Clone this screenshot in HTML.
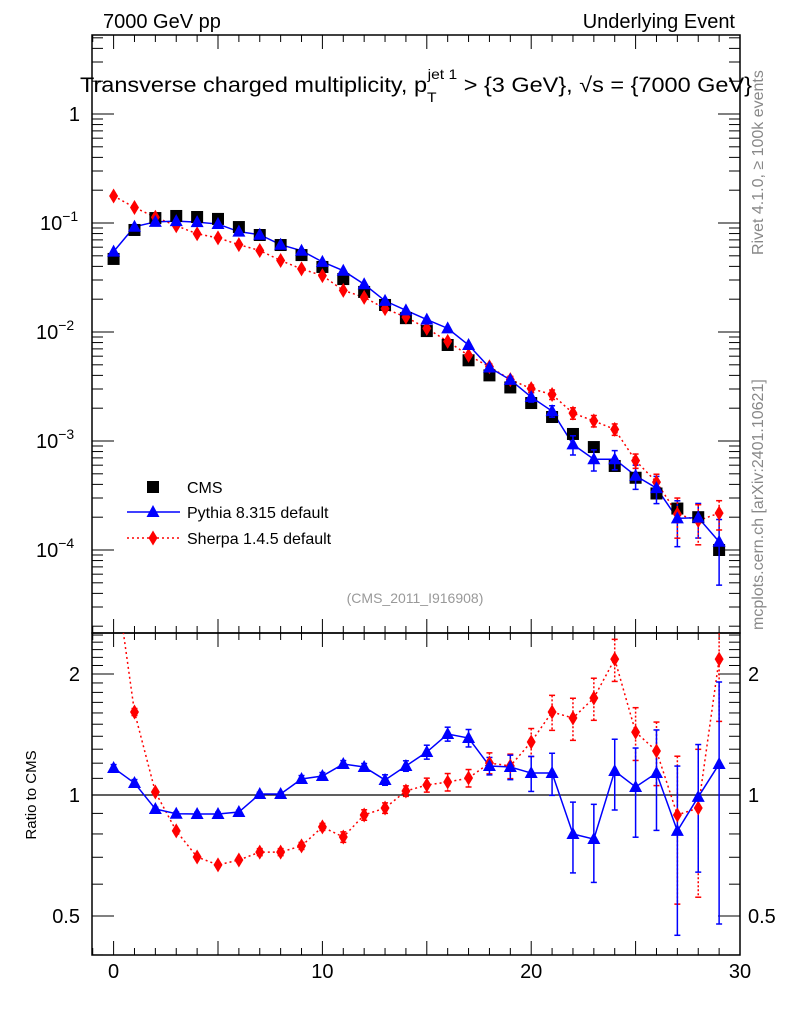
<!DOCTYPE html>
<html><head><meta charset="utf-8"><style>
body{margin:0;background:#fff}
svg{display:block;font-family:"Liberation Sans",sans-serif}
</style></head><body>
<svg id="chart" width="786" height="1024" viewBox="0 0 786 1024" xmlns="http://www.w3.org/2000/svg">
<rect width="786" height="1024" fill="#fff"/>
<text x="103" y="28" font-size="20">7000 GeV pp</text>
<text x="735" y="28" font-size="20" text-anchor="end">Underlying Event</text>
<text x="80" y="92" font-size="21" textLength="672" lengthAdjust="spacingAndGlyphs">Transverse charged multiplicity, p<tspan font-size="14" dy="10">T</tspan><tspan font-size="14" dy="-23" dx="-8">jet 1</tspan><tspan dy="13"> &gt; {3 GeV}, √s = {7000 GeV}</tspan></text>
<text transform="translate(763,255) rotate(-90)" font-size="16" fill="#888">Rivet 4.1.0, ≥ 100k events</text>
<text transform="translate(763,630) rotate(-90)" font-size="16" fill="#888">mcplots.cern.ch [arXiv:2401.10621]</text>
<text x="415" y="603" font-size="14" fill="#999" text-anchor="middle">(CMS_2011_I916908)</text>
<text transform="translate(36,795) rotate(-90)" font-size="15" text-anchor="middle">Ratio to CMS</text>
<g id="main"></g>
<g id="ratio"></g>
<g id="legend"></g>
</svg>
<script>
const mult = [0,1,2,3,4,5,6,7,8,9,10,11,12,13,14,15,16,17,18,19,20,21,22,23,24,25,26,27,28,29];
const cmsValues = [0.0468,0.0863,0.111,0.116,0.1135,0.109,0.0918,0.0776,0.0628,0.0508,0.0395,0.0306,0.0233,0.0177,0.0134,0.0102,0.0076,0.0055,0.0040,0.0031,0.00223,0.00166,0.00116,0.00088,0.00059,0.00046,0.00033,0.00024,0.00020,0.00010];
const pythiaValues = [0.0546,0.0924,0.1025,0.104,0.1018,0.0978,0.0833,0.0781,0.0632,0.0557,0.0440,0.0365,0.0274,0.0193,0.0158,0.0130,0.0108,0.0076,0.00472,0.00364,0.00253,0.00188,0.00093,0.00068,0.00068,0.00048,0.00037,0.000195,0.000198,0.000119];
const sherpaValues = [0.177,0.1389,0.113,0.0944,0.0796,0.0730,0.0633,0.0559,0.0453,0.0379,0.0329,0.0241,0.0208,0.0164,0.0137,0.0108,0.0082,0.0061,0.0048,0.00366,0.00302,0.00267,0.0018,0.00153,0.00128,0.00066,0.00042,0.000214,0.000186,0.000218];
const pythiaRatio = [1.167,1.071,0.923,0.898,0.897,0.897,0.907,1.006,1.006,1.096,1.115,1.194,1.174,1.090,1.181,1.279,1.418,1.386,1.181,1.174,1.134,1.134,0.800,0.777,1.147,1.047,1.134,0.814,0.989,1.194];
const sherpaRatio = [3.78,1.609,1.017,0.814,0.701,0.670,0.689,0.721,0.721,0.747,0.833,0.786,0.892,0.928,1.023,1.059,1.077,1.102,1.201,1.181,1.355,1.609,1.554,1.743,2.178,1.434,1.287,0.892,0.928,2.178];
const pythiaRelErr = [0.02,0.02,0.01,0.01,0.01,0.01,0.01,0.01,0.01,0.02,0.02,0.02,0.02,0.03,0.03,0.04,0.04,0.05,0.05,0.07,0.10,0.12,0.20,0.22,0.20,0.25,0.28,0.45,0.35,0.60];
const sherpaRelErr = [0.02,0.02,0.01,0.01,0.01,0.01,0.01,0.02,0.02,0.02,0.02,0.03,0.03,0.03,0.03,0.04,0.05,0.05,0.06,0.07,0.08,0.10,0.12,0.12,0.12,0.15,0.18,0.40,0.40,0.30];
const mainTickLabels = ["1","10","10","10","10"];
const mainTickExps = [0,-1,-2,-3,-4];
const ratioTicks = [0.5,1,2];
const xTicks = [0,10,20,30];

const NS="http://www.w3.org/2000/svg";
const L=92,R=740,T=35,M=633,B=955;
const x=v=>113.6+(v)*(740-113.6)/30;
const yM=v=>114-109*Math.log10(v);
const yR=v=>795-121*Math.log2(v);
function mk(tag,parent,attrs){const e=document.createElementNS(NS,tag);for(const k in attrs)e.setAttribute(k,attrs[k]);parent.appendChild(e);return e;}
const main=document.getElementById('main'),ratio=document.getElementById('ratio'),leg=document.getElementById('legend');

// frames
let f=mk('rect',main,{x:L,y:T,width:R-L,height:M-T,fill:'none',stroke:'#000','stroke-width':1.5});


f=mk('rect',ratio,{x:L,y:M,width:R-L,height:B-M,fill:'none',stroke:'#000','stroke-width':1.5});



// x ticks
for(let v=-1;v<=30;v++){
  const big=v%5===0, len=big?14:7;
  for(const [top,bot] of [[T,M],[M,B]]){
    mk('line',main,{x1:x(v),x2:x(v),y1:bot,y2:bot-len,stroke:'#000'});
    mk('line',main,{x1:x(v),x2:x(v),y1:top,y2:top+len,stroke:'#000'});
  }
}
xTicks.forEach(v=>{const t=mk('text',ratio,{x:x(v),y:978,'font-size':20,'text-anchor':'middle'});t.textContent=v;

});

// main y ticks
for(let e=-5;e<=0;e++){
  for(let k=1;k<10;k++){
    const v=k*Math.pow(10,e), y=yM(v);
    if(y<T||y>M)continue;
    const len=k===1?22:11;
    mk('line',main,{x1:L,x2:L+len,y1:y,y2:y,stroke:'#000'});
    mk('line',main,{x1:R,x2:R-len,y1:y,y2:y,stroke:'#000'});
  }
}
mainTickExps.forEach((e,i)=>{
  const y=yM(Math.pow(10,e));
  const t=mk('text',main,{x:80,y:y+7,'font-size':20,'text-anchor':'end'});
  
  
  if(e===0)t.textContent=mainTickLabels[i];
  else{t.setAttribute('x',60);t.textContent=mainTickLabels[i];const s=mk('tspan',t,{'font-size':14,dy:-9});s.textContent=String(e).replace('-','−');}
  if(e!==0)t.setAttribute('text-anchor','start'),t.setAttribute('x',e===-1?40:36);
});

// ratio y ticks
[0.4,0.5,0.6,0.7,0.8,0.9,1,2].forEach(v=>{const y=yR(v);const len=(v===0.5||v===1||v===2)?22:11;
  mk('line',ratio,{x1:L,x2:L+len,y1:y,y2:y,stroke:'#000'});mk('line',ratio,{x1:R,x2:R-len,y1:y,y2:y,stroke:'#000'});});
[1.1,1.2,1.3,1.4,1.5,1.6,1.7,1.8,1.9,2.1,2.2,2.3,2.4,2.5].forEach(v=>{const y=yR(v);if(y<M)return;
  mk('line',ratio,{x1:L,x2:L+11,y1:y,y2:y,stroke:'#000'});mk('line',ratio,{x1:R,x2:R-11,y1:y,y2:y,stroke:'#000'});});
ratioTicks.forEach(v=>{const y=yR(v)+7;
  let t=mk('text',ratio,{x:80,y:y,'font-size':20,'text-anchor':'end'});t.textContent=v;
  
  
  t=mk('text',ratio,{x:748,y:y,'font-size':20});t.textContent=v;
  
  });
mk('line',ratio,{x1:L,x2:R,y1:yR(1),y2:yR(1),stroke:'#000','stroke-width':1.2});

// clip paths
const defs=mk('defs',document.getElementById('chart'),{});
let cp=mk('clipPath',defs,{id:'cm'});mk('rect',cp,{x:L,y:T,width:R-L,height:M-T});
cp=mk('clipPath',defs,{id:'cr'});mk('rect',cp,{x:L,y:M,width:R-L,height:B-M});
const gm=mk('g',main,{'clip-path':'url(#cm)'}),gr=mk('g',ratio,{'clip-path':'url(#cr)'});

function tri(g,cx,cy,c){return mk('path',g,{d:`M${cx},${cy-7}L${cx+6.5},${cy+5}L${cx-6.5},${cy+5}Z`,fill:c});}
function dia(g,cx,cy,c){return mk('path',g,{d:`M${cx},${cy-7.5}L${cx+4.5},${cy}L${cx},${cy+7.5}L${cx-4.5},${cy}Z`,fill:c});}
function sq(g,cx,cy){return mk('rect',g,{x:cx-6,y:cy-6,width:12,height:12,fill:'#000'});}
function errbar(g,cx,y1,y2,c,dash){const a={x1:cx,x2:cx,y1:y1,y2:y2,stroke:c,'stroke-width':1.5};if(dash)a['stroke-dasharray']='2,2';mk('line',g,a);
  mk('line',g,{x1:cx-3,x2:cx+3,y1:y1,y2:y1,stroke:c,'stroke-width':1.5});mk('line',g,{x1:cx-3,x2:cx+3,y1:y2,y2:y2,stroke:c,'stroke-width':1.5});}

// main series
let s=mk('polyline',gm,{points:mult.map((m,i)=>x(m)+','+yM(sherpaValues[i])).join(' '),fill:'none',stroke:'#f00','stroke-width':1.5,'stroke-dasharray':'2,3'});


s=mk('polyline',gm,{points:mult.map((m,i)=>x(m)+','+yM(pythiaValues[i])).join(' '),fill:'none',stroke:'#00f','stroke-width':1.5});


mult.forEach((m,i)=>{
  const p=sq(gm,x(m),yM(cmsValues[i]));
  
  
});
mult.forEach((m,i)=>{
  const pe=pythiaRelErr[i];if(pe>0.05)errbar(gm,x(m),yM(pythiaValues[i]*(1+pe)),yM(pythiaValues[i]*Math.max(0.05,1-pe)),'#00f');
  const se=sherpaRelErr[i];if(se>0.05)errbar(gm,x(m),yM(sherpaValues[i]*(1+se)),yM(sherpaValues[i]*Math.max(0.05,1-se)),'#f00',true);
  let p=dia(gm,x(m),yM(sherpaValues[i]),'#f00');
  
  
  p=tri(gm,x(m),yM(pythiaValues[i]),'#00f');
  
  
});

// ratio series
s=mk('polyline',gr,{points:mult.map((m,i)=>x(m)+','+yR(sherpaRatio[i])).join(' '),fill:'none',stroke:'#f00','stroke-width':1.5,'stroke-dasharray':'2,3'});


s=mk('polyline',gr,{points:mult.map((m,i)=>x(m)+','+yR(pythiaRatio[i])).join(' '),fill:'none',stroke:'#00f','stroke-width':1.5});


mult.forEach((m,i)=>{
  const se=sherpaRelErr[i];errbar(gr,x(m),yR(sherpaRatio[i]*(1+se)),yR(sherpaRatio[i]*Math.max(0.05,1-se)),'#f00',true);
  const pe=pythiaRelErr[i];errbar(gr,x(m),yR(pythiaRatio[i]*(1+pe)),yR(pythiaRatio[i]*Math.max(0.05,1-pe)),'#00f');
  let p=dia(gr,x(m),yR(sherpaRatio[i]),'#f00');
  
  
  p=tri(gr,x(m),yR(pythiaRatio[i]),'#00f');
  
  
});

// legend
const entries=[['CMS',487],['Pythia 8.315 default',512],['Sherpa 1.4.5 default',538]];
entries.forEach(([lab,y],i)=>{
  const g=mk('g',leg,{});
  
  
  if(i===0)sq(g,153,y);
  if(i===1){mk('line',g,{x1:127,x2:180,y1:y,y2:y,stroke:'#00f','stroke-width':1.5});tri(g,153,y,'#00f');}
  if(i===2){mk('line',g,{x1:127,x2:180,y1:y,y2:y,stroke:'#f00','stroke-width':1.5,'stroke-dasharray':'2,3'});dia(g,153,y,'#f00');}
  const t=mk('text',g,{x:187,y:y+6,'font-size':16});t.textContent=lab;
});
</script>
</body></html>
